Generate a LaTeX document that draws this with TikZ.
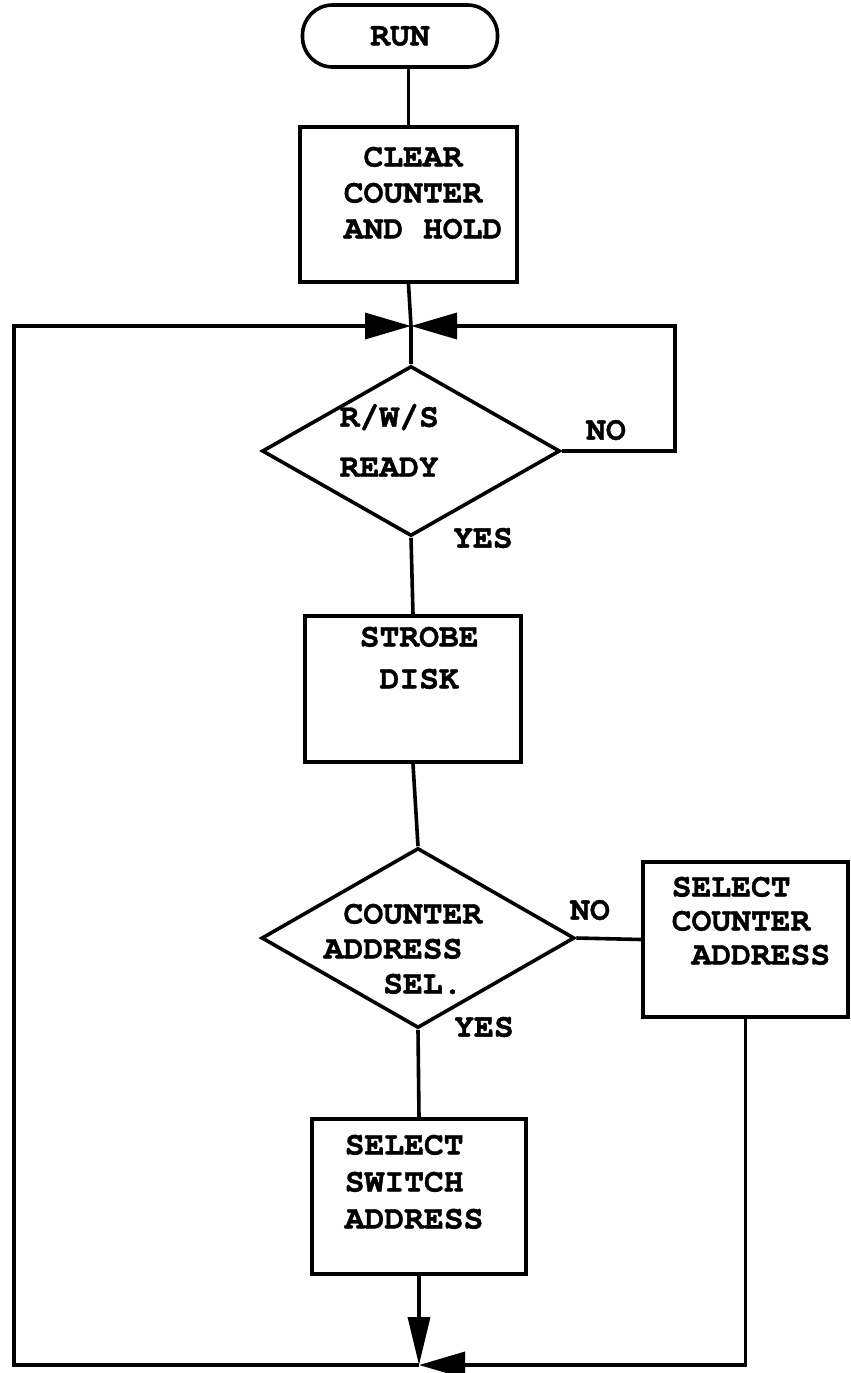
\documentclass[tikz,border=0pt]{standalone}
\usepackage{fontspec}
\setmonofont{texgyrecursor}[Extension=.otf, UprightFont=*-regular, BoldFont=*-bold, BoldFeatures={FakeBold=1.2}]
\usetikzlibrary{arrows.meta,shapes.geometric,positioning}
\newcommand{\chskip}{\hphantom{X}}
\newcommand{\tw}[1]{\ttfamily\bfseries\fontsize{16.5}{#1}\selectfont}
\tikzset{
  box/.style={draw, inner sep=0pt},
  txt/.style={font=\tw{18}, inner sep=0pt, align=left, anchor=north west},
  lbl/.style={font=\tw{18}, inner sep=0pt},
  flowtip/.style={-{Triangle[length=23pt,width=13pt]}},
  downtip/.style={-{Triangle[length=24pt,width=11pt]}}
}
\begin{document}
\begin{tikzpicture}[x=0.5pt, y=-0.5pt, line width=1.8pt]
    \useasboundingbox (0,0) rectangle (851,1373);
    % start and process boxes
    \node[box, rounded corners=15pt, minimum width=97.5pt, minimum height=31pt, font=\tw{18}] (run) at (400,36) {RUN};
    \node[box, minimum width=108.5pt, minimum height=77.5pt] (clear) at (408.5,204.5) {};
    \node[box, minimum width=108pt, minimum height=73pt] (strobe) at (413,689) {};
    \node[box, minimum width=102.5pt, minimum height=77.5pt] (selctr) at (745.5,939.5) {};
    \node[box, minimum width=107pt, minimum height=77.5pt] (selsw) at (419,1196.5) {};
    % decisions
    \node[box, diamond, minimum width=149pt, minimum height=85pt] (ready) at (411,451) {};
    \node[box, diamond, minimum width=156.5pt, minimum height=90pt] (ctr) at (418,938) {};
    % texts inside the boxes
    \node[txt] (clearT) at (342,145) {\chskip CLEAR\\COUNTER\\AND HOLD};
    \node[txt, font=\tw{21}] (strobeT) at (358,625) {STROBE\\\chskip DISK};
    \node[txt, font=\tw{25}] (readyT) at (338,402) {R/W/S\\READY};
    \node[txt, font=\tw{17.5}] (ctrT) at (322,902) {\chskip COUNTER\\ADDRESS\\\chskip\chskip\chskip SEL.};
    \node[txt, font=\tw{17}] (selctrT) at (670,875) {SELECT\\COUNTER\\\chskip ADDRESS};
    \node[txt, font=\tw{18.5}] (selswT) at (343,1133) {SELECT\\SWITCH\\ADDRESS};
    % branch labels
    \node[lbl] (no1) at (606,430) {NO};
    \node[lbl] (yes1) at (483,538) {YES};
    \node[lbl] (no2) at (590,910) {NO};
    \node[lbl] (yes2) at (484,1027) {YES};
    % corners of the return paths
    \coordinate (join) at (411,326);
    \coordinate (noR) at (675,326);
    \coordinate (merge) at (419,1365);
    \coordinate (loopBL) at (14,1365);
    \coordinate (loopTL) at (14,326);
    % main flow
    \draw (run.south -| clear.north) -- (clear.north);
    \draw (clear.south) -- (join) -- (ready.north);
    \draw (ready.south) -- (strobe.north);
    \draw (strobe.south) -- (ctr.north);
    \draw (ctr.south) -- (selsw.north);
    \draw (ctr.east) -- (selctr.west);
    % return paths
    \draw[flowtip] (ready.east) -| (noR) -- (join);
    \draw[downtip] (selsw.south) -- (merge);
    \draw[flowtip] (selctr.south) |- (merge);
    \draw[flowtip] (merge) -- (loopBL) -- (loopTL) -- (join);
\end{tikzpicture}
\end{document}
